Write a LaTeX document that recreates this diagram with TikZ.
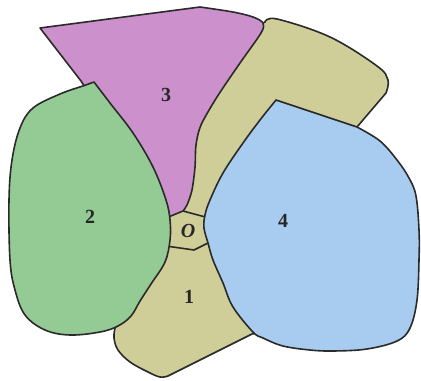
\documentclass[tikz,border=0pt]{standalone}
\usepackage{fontspec}
\setmainfont{Liberation Serif}
\definecolor{kh}{HTML}{CFCE99}
\definecolor{pu}{HTML}{CC91CC}
\definecolor{gr}{HTML}{94CB94}
\definecolor{bl}{HTML}{A8CCF0}
\definecolor{edge}{HTML}{2A2A2A}
\tikzset{
  region/.style={draw=edge, line width=0.8pt, line join=round},
  lbl/.style={font=\fontsize{10}{11}\selectfont\bfseries, text=black!85}
}
\begin{document}
\begin{tikzpicture}[x=0.5pt,y=-0.5pt]
\useasboundingbox (0,0) rectangle (421,380);
% upper-right khaki band
\path[region, fill=kh] (250,30) -- plot[smooth, tension=0.6] coordinates {(265,22) (277,19) (330,37) (377,66) (388,80) (386,93)} -- (357,127) -- (330,160) -- (225,255) -- (195,265) -- (150,250) -- (150,195) -- (185,150) -- (240,40) -- cycle;
% region 3
\path[region, fill=pu] (40,28) -- (200,7) -- plot[smooth, tension=0.5] coordinates {(200,7) (233,12) (253,17) (263,23) (261,33) (240,63) (217,97) (201,125) (196,145) (195,167) (192,190) (187,205) (183,211)} -- (166,218) -- (150,220) -- (90,95) -- (81,81) -- cycle;
% region 1
\path[region, fill=kh] (166,246) -- (194,250) -- (212,241) -- (235,240) -- (275,330) -- (252,334) -- plot[smooth, tension=0.6] coordinates {(168,376) (160,377) (148,372) (130,362) (118,350) (114,338) (115,328)} -- (140,290) -- (158,255) -- cycle;
% divider of O
\draw[region] (183,211) -- (209,218);
% region 2
\path[region, fill=gr] (94,82) -- plot[smooth, tension=0.6] coordinates {(94,82) (110,103) (133,133) (153,167) (166,200) (170,220) (170,240) (165,262) (151,284) (140,301) (131,316) (118,326) (100,332) (70,335) (45,330) (25,315) (15,290) (10,260) (9,200) (12,160) (20,128) (33,108) (60,94) (83,86)} -- cycle;
% region 4
\path[region, fill=bl] (276,100) -- (357,127) -- plot[smooth, tension=0.6] coordinates {(357,127) (380,141) (397,160) (409,178) (416,196) (419,230) (419,260) (417,300) (410,328) (397,341) (367,349) (333,351) (310,350) (283,346) (263,338) (253,332) (233,307) (223,283) (213,260) (208,243) (204,228) (205,215) (210,200) (223,173) (243,143) (260,120) (276,100)} -- cycle;
% labels
\node[lbl] (l3) at (166,95) {3};
\node[lbl] (l2) at (90,217) {2};
\node[lbl] (l4) at (283,221) {4};
\node[lbl] (l1) at (189,297) {1};
\node[lbl, font=\fontsize{10}{11}\selectfont\bfseries\itshape] (lo) at (188,231) {O};
\end{tikzpicture}
\end{document}
